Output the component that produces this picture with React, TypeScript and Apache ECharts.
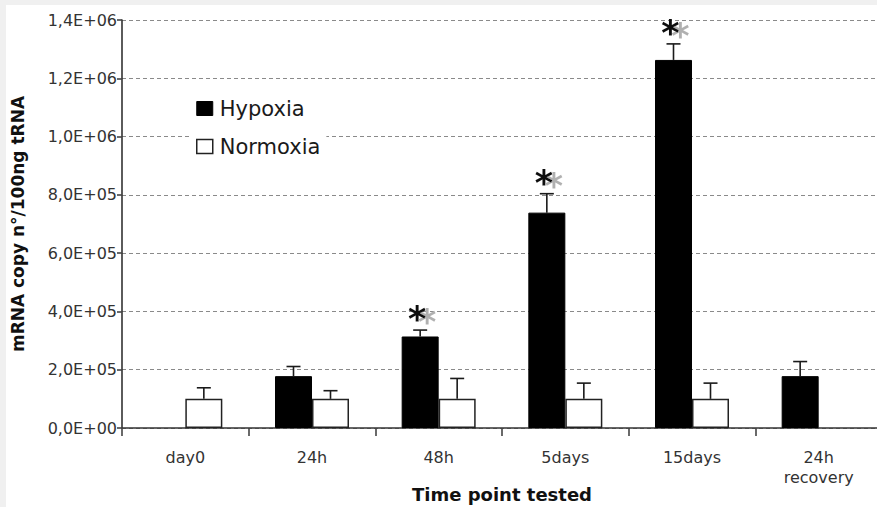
import React, { useEffect, useRef } from "react";
import * as echarts from "echarts";

// Time points and measured transcript levels (copies per 100 ng tRNA)
const categories = ["day0", "24h", "48h", "5days", "15days", "24h\nrecovery"];
const hypoxia = [null, 178000, 314000, 739000, 1263000, 178000];
const hypoxiaErr = [null, 33000, 22000, 65000, 55000, 50000];
const normoxia = [100000, 100000, 100000, 100000, 100000, null];
const normoxiaErr = [38000, 28000, 70000, 54000, 54000, null];
const significant = [false, false, true, true, true, false];
const yTicks = { min: 0, max: 1400000, interval: 200000 };

const FONT = '"DejaVu Sans", "Liberation Sans", Arial, sans-serif';
const BAR_W = 37;

function sci(v: number): string {
  if (v === 0) return "0,0E+00";
  const exp = Math.floor(Math.log10(v) + 1e-9);
  const m = v / Math.pow(10, exp);
  return m.toFixed(1).replace(".", ",") + "E+" + String(exp).padStart(2, "0");
}

function errorSeries(values: (number | null)[], errs: (number | null)[], offset: number) {
  const data: number[][] = [];
  values.forEach((v, i) => {
    if (v != null && errs[i] != null) data.push([i, v, errs[i] as number]);
  });
  return {
    type: "custom",
    z: 5,
    silent: true,
    encode: { x: 0, y: 1 },
    data,
    renderItem: (_p: any, api: any) => {
      const i = api.value(0);
      const v = api.value(1);
      const e = api.value(2);
      const base = api.coord([i, v]);
      const top = api.coord([i, v + e]);
      const x = base[0] + offset;
      const st = { stroke: "#1a1a1a", lineWidth: 1.6 };
      return {
        type: "group",
        children: [
          { type: "line", shape: { x1: x, y1: base[1], x2: x, y2: top[1] }, style: st },
          { type: "line", shape: { x1: x - 7, y1: top[1], x2: x + 7, y2: top[1] }, style: st },
        ],
      };
    },
  };
}

// Significance asterisk above each marked hypoxia bar, with a grey offset shadow
function starSeries() {
  const data: number[][] = [];
  significant.forEach((s, i) => {
    if (s && hypoxia[i] != null) data.push([i, (hypoxia[i] as number) + (hypoxiaErr[i] as number)]);
  });
  return {
    type: "custom",
    z: 6,
    silent: true,
    encode: { x: 0, y: 1 },
    data,
    renderItem: (_p: any, api: any) => {
      const p = api.coord([api.value(0), api.value(1)]);
      const x = p[0] - BAR_W / 2 - 3;
      const y = p[1] - 11;
      return {
        type: "text",
        style: {
          text: "*",
          x,
          y,
          fill: "#111",
          font: "bold 35px " + FONT,
          align: "center",
          verticalAlign: "middle",
          textShadowColor: "#b0b0b0",
          textShadowOffsetX: 10,
          textShadowOffsetY: 3,
          textShadowBlur: 0.5,
        },
      };
    },
  };
}

export default function App() {
  const ref = useRef<HTMLDivElement>(null);

  useEffect(() => {
    if (!ref.current) return;
    const chart = echarts.init(ref.current, null, { renderer: "svg" });
    chart.setOption({
      animation: false,
      textStyle: { fontFamily: FONT },
      grid: { left: 122, top: 20, width: 760, height: 408, outerBoundsMode: "none", containLabel: false },
      legend: {
        orient: "vertical",
        left: 190,
        top: 88,
        padding: [10, 6, 10, 6],
        itemGap: 17,
        itemWidth: 16,
        itemHeight: 14,
        backgroundColor: "#ffffff",
        selectedMode: false,
        textStyle: { fontSize: 21, color: "#1a1a1a", fontFamily: FONT, padding: [0, 0, 0, 2] },
        data: [
          { name: "Hypoxia", icon: "rect", itemStyle: { color: "#000", borderColor: "#000", borderWidth: 1 } },
          { name: "Normoxia", icon: "rect", itemStyle: { color: "#fff", borderColor: "#222", borderWidth: 1.5 } },
        ],
      },
      xAxis: {
        type: "category",
        data: categories,
        boundaryGap: true,
        name: "Time point tested",
        nameLocation: "middle",
        nameGap: 57,
        nameMoveOverlap: false,
        nameTextStyle: { fontSize: 18, fontWeight: "bold", color: "#111", fontFamily: FONT },
        axisLine: { lineStyle: { color: "#333", width: 1.6 } },
        axisTick: { show: true, length: 8, lineStyle: { color: "#444", width: 1.6 } },
        axisLabel: { fontSize: 16, color: "#333", margin: 19, lineHeight: 20, fontFamily: FONT },
        splitLine: { show: false },
      },
      yAxis: {
        type: "value",
        min: yTicks.min,
        max: yTicks.max,
        interval: yTicks.interval,
        name: "mRNA copy n°/100ng tRNA",
        nameLocation: "middle",
        nameGap: 96,
        nameMoveOverlap: false,
        nameTextStyle: { fontSize: 17, fontWeight: "bold", color: "#111", fontFamily: FONT },
        axisLine: { show: true, lineStyle: { color: "#333", width: 1.6 } },
        axisTick: { show: true, length: 5, lineStyle: { color: "#444", width: 1.6 } },
        axisLabel: { fontSize: 16, color: "#333", margin: 5, formatter: (v: number) => sci(v), fontFamily: FONT },
        splitLine: { show: true, lineStyle: { color: "#8a8a8a", width: 1, type: [4, 3] } },
      },
      series: [
        {
          name: "Hypoxia",
          type: "bar",
          barWidth: BAR_W,
          barGap: "0%",
          z: 3,
          itemStyle: { color: "#000", borderColor: "#000", borderWidth: 1 },
          data: hypoxia.map((v) => (v == null ? "-" : v)),
        },
        {
          name: "Normoxia",
          type: "bar",
          barWidth: BAR_W,
          barGap: "0%",
          z: 3,
          itemStyle: { color: "#fff", borderColor: "#222", borderWidth: 1.5 },
          data: normoxia.map((v) => (v == null ? "-" : v)),
        },
        errorSeries(hypoxia, hypoxiaErr, -BAR_W / 2),
        errorSeries(normoxia, normoxiaErr, BAR_W / 2),
        starSeries(),
      ],
    });
    return () => chart.dispose();
  }, []);

  return (
    <div style={{ position: "fixed", left: 0, top: 0, width: 877, height: 507, background: "#f0f0f0" }}>
      <div style={{ position: "absolute", left: 6, top: 5, right: 0, bottom: 0, background: "#ffffff" }} />
      <div ref={ref} style={{ position: "absolute", left: 0, top: 0, width: 877, height: 507 }} />
    </div>
  );
}
